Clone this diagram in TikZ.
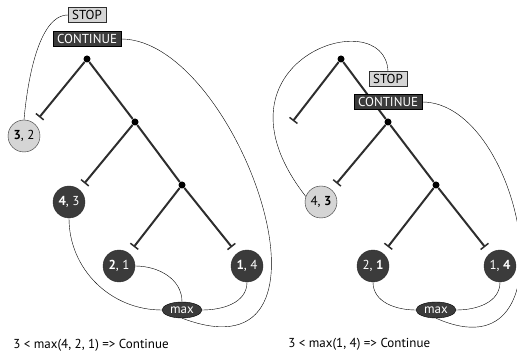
\documentclass[tikz,border=0pt]{standalone}
\usepackage{fontspec}
\setmainfont{PT Sans}
\usepackage{tikz}
\usetikzlibrary{arrows.meta,positioning,shapes.geometric}

\definecolor{darkfill}{HTML}{3B3B3B}
\definecolor{lightfill}{HTML}{D5D5D5}
\definecolor{edgegray}{HTML}{2E2E2E}

\begin{document}
\begin{tikzpicture}[x=1pt,
            y=1pt,
            on grid,
            semithick,
            font=\fontsize{13}{15}\selectfont,
            fork/.style={circle,fill=black,inner sep=0pt,minimum size=7pt},
            livenode/.style={circle,draw=edgegray,thin,fill=darkfill,text=white,minimum size=32pt,inner sep=0pt},
            cutnode/.style={circle,draw=edgegray,thin,fill=lightfill,text=black,minimum size=32pt,inner sep=0pt},
            stem/.style={draw=edgegray,line width=2pt},
            branch/.style={draw=edgegray,line width=2pt,-{Bar[width=10pt,line width=1.5pt]},shorten >=8pt},
            stopbox/.style={rectangle,draw=edgegray,thin,fill=lightfill,inner xsep=4pt,inner ysep=0pt,minimum height=15pt},
            contbox/.style={rectangle,draw=black,thin,fill=darkfill,text=white,inner xsep=4pt,inner ysep=0pt,minimum height=15pt},
            maxnode/.style={ellipse,draw=black,thin,fill=darkfill,text=white,minimum width=40pt,minimum height=16pt,inner sep=0pt},
            link/.style={draw=black,thin}]

        \useasboundingbox (0,0) rectangle (517,-355);

        % left: 3 is below max(4,2,1)
        \node[fork]     (l-a)                                   at (87,-59) {};
        \node[fork]     (l-b)   [below right=63pt and 48pt of l-a]  {};
        \node[fork]     (l-c)   [below right=63pt and 47pt of l-b]  {};
        \node[cutnode]  (l-32)  [below left=77pt and 63pt of l-a]   {\textbf{3}, 2};
        \node[livenode] (l-43)  [below left=80pt and 66pt of l-b]   {\textbf{4}, 3};
        \node[livenode] (l-21)  [below left=81pt and 63pt of l-c]   {\textbf{2}, 1};
        \node[livenode] (l-14)  [below right=81pt and 65pt of l-c]  {\textbf{1}, 4};
        \node[maxnode]  (l-max) [below=125pt of l-c]                {max};

        \draw[stem]   (l-a) -- (l-b) -- (l-c);
        \draw[branch] (l-a) -- (l-32);
        \draw[branch] (l-b) -- (l-43);
        \draw[branch] (l-c) -- (l-21);
        \draw[branch] (l-c) -- (l-14);

        \node[contbox]  (l-cont) [above=20pt of l-a]    {CONTINUE};
        \node[stopbox]  (l-stop) [above=24pt of l-cont] {STOP};

        \draw[link] (l-stop.west) to[out=180,in=85,looseness=0.7] (l-32.north);
        \draw[link] (l-cont.east) .. controls +(117,0) and +(177,-67) .. (l-max.south);
        \draw[link] (l-43.south)  to[out=-90,in=180] (l-max.west);
        \draw[link] (l-21.east)   to[out=0,in=90]    (l-max.north);
        \draw[link] (l-max.east)  to[out=0,in=-90]   (l-14.south);

        % right: 3 is below max(1,4)
        \node[fork]     (r-a)                                   at (341,-59) {};
        \node[fork]     (r-b)   [below right=63pt and 47pt of r-a]  {};
        \node[fork]     (r-c)   [below right=63pt and 48pt of r-b]  {};
        \coordinate[below left=62pt and 48pt of r-a] (r-end);
        \node[cutnode]  (r-43)  [below left=80pt and 67pt of r-b]   {4, \textbf{3}};
        \node[livenode] (r-21)  [below left=81pt and 63pt of r-c]   {2, \textbf{1}};
        \node[livenode] (r-14)  [below right=81pt and 64pt of r-c]  {1, \textbf{4}};
        \node[maxnode]  (r-max) [below=125pt of r-c]                {max};

        \draw[stem]   (r-a) -- (r-b) -- (r-c);
        \draw[branch,shorten >=0pt] (r-a) -- (r-end);
        \draw[branch] (r-b) -- (r-43);
        \draw[branch] (r-c) -- (r-21);
        \draw[branch] (r-c) -- (r-14);

        \node[contbox]  (r-cont) [above=20pt of r-b]    {CONTINUE};
        \node[stopbox]  (r-stop) [above=23pt of r-cont] {STOP};

        \draw[link] (r-stop.north) .. controls +(-3,71) and +(-106,136) .. (r-43.160);
        \draw[link] (r-cont.east)  .. controls +(100,0) and +(140,-62) .. (r-max.south);
        \draw[link] (r-21.south)   to[out=-90,in=180] (r-max.west);
        \draw[link] (r-max.east)   to[out=0,in=-90]   (r-14.south);

        \node[anchor=west,inner sep=0pt] (l-note) at (13,-345)  {3 < max(4, 2, 1) => Continue};
        \node[anchor=west,inner sep=0pt] (r-note) at (288,-344) {3 < max(1, 4) => Continue};

    \end{tikzpicture}
\end{document}
